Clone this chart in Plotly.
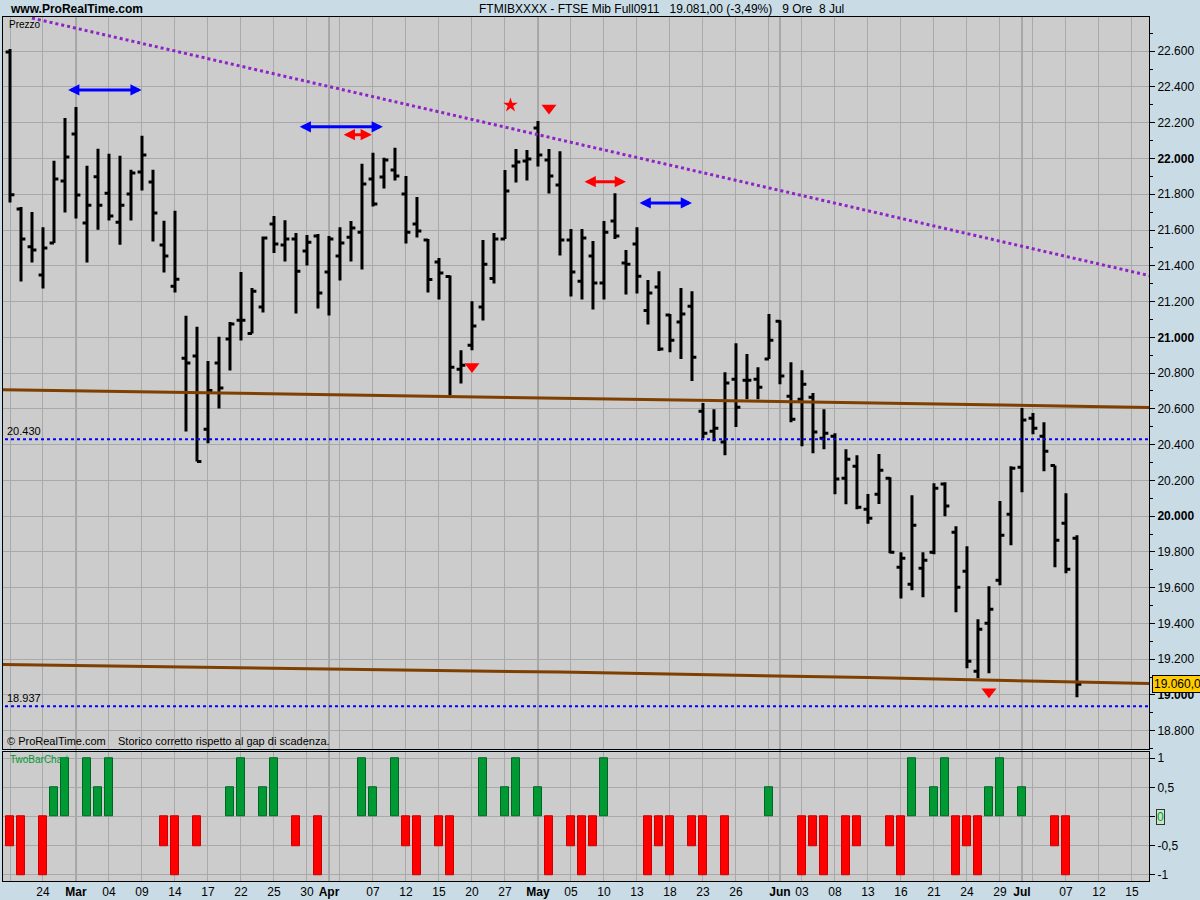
import plotly.graph_objects as go

# ---------------- DATA ----------------
bar_index = list(range(98))
opens = [22595, 21717, 21506, 21348, 21527, 21874, 22137, 21639, 21898, 21806,
         21644, 21801, 21924, 21868, 21516, 21286, 20883, 20896, 20486, 20856,
         20990, 21096, 21021, 21169, 21633, 21516, 21549, 21482, 21566, 21365,
         21454, 21560, 21588, 21885, 21896, 21935, 21801, 21633, 21544, 21421,
         21340, 20822, 20956, 21169, 21329, 21549, 21958, 21986, 22170, 21991,
         21851, 21544, 21314, 21454, 21303, 21650, 21415, 21521, 21150, 21281,
         21124, 21085, 21174, 20587, 20475, 20414, 20766, 20760, 20766, 20878,
         21090, 20671, 20654, 20665, 20436, 20447, 20212, 20279, 20039, 20123,
         20212, 19714, 19619, 19709, 19798, 20179, 19910, 19692, 19133, 19401,
         19642, 20011, 20274, 20548, 20447, 20283, 19960, 19877]
highs = [22612, 21728, 21700, 21616, 21987, 22226, 22288, 21959, 22054, 22026,
         22015, 21937, 22127, 21937, 21652, 21707, 21120, 21059, 20868, 21003,
         21085, 21365, 21275, 21564, 21678, 21655, 21583, 21572, 21577, 21566,
         21616, 21650, 21970, 22032, 22004, 22060, 21902, 21784, 21549, 21443,
         21346, 20928, 21202, 21544, 21583, 21935, 22053, 22047, 22209, 22053,
         22041, 21605, 21605, 21538, 21650, 21806, 21488, 21616, 21320, 21370,
         21130, 21275, 21258, 20632, 20598, 20805, 20967, 20906, 20833, 21130,
         21096, 20861, 20816, 20688, 20598, 20464, 20374, 20341, 20124, 20348,
         20218, 19798, 20117, 19798, 20184, 20190, 19944, 19832, 19423, 19608,
         20084, 20279, 20604, 20576, 20525, 20283, 20128, 19893]
lows = [21754, 21312, 21418, 21273, 21527, 21698, 21664, 21418, 21601, 21653,
        21517, 21653, 21821, 21536, 21362, 21251, 20473, 20305, 20408, 20602,
        20814, 20982, 21021, 21139, 21471, 21424, 21133, 21402, 21161, 21122,
        21318, 21424, 21379, 21732, 21832, 21877, 21525, 21558, 21251, 21211,
        20674, 20741, 20928, 21094, 21301, 21549, 21866, 21877, 21955, 21804,
        21457, 21228, 21211, 21155, 21211, 21549, 21239, 21245, 21071, 20923,
        20917, 20878, 20755, 20436, 20419, 20341, 20498, 20654, 20654, 20878,
        20738, 20525, 20391, 20352, 20374, 20123, 20067, 20039, 19957, 20068,
        19793, 19539, 19586, 19547, 19787, 20000, 19463, 19149, 19093, 19121,
        19614, 19837, 20134, 20458, 20251, 19714, 19681, 18987]
closes = [21797, 21549, 21488, 21499, 21885, 22008, 21795, 21739, 21739, 21678,
          21739, 21918, 22019, 21695, 21454, 21325, 20856, 20305, 20702, 20716,
          21074, 21096, 21258, 21555, 21521, 21549, 21370, 21532, 21247, 21549,
          21527, 21611, 21857, 21745, 21991, 21902, 21588, 21594, 21323, 21359,
          20833, 20844, 21063, 21409, 21549, 21818, 21980, 21997, 22019, 21902,
          21544, 21365, 21555, 21303, 21588, 21566, 21409, 21342, 21247, 20934,
          20984, 21130, 20889, 20464, 20492, 20744, 20609, 20760, 20721, 20984,
          20783, 20542, 20738, 20470, 20464, 20207, 20318, 20050, 19988, 20257,
          19798, 19765, 19949, 19754, 20156, 20056, 19602, 19189, 19368, 19479,
          19893, 20268, 20537, 20492, 20363, 19865, 19703, 19060]

two_bar = [-0.5, -1, 0, -1, 0.5, 1, 0, 1, 0.5, 1,
           0, 0, 0, 0, -0.5, -1, 0, -0.5, 0, 0,
           0.5, 1, 0, 0.5, 1, 0, -0.5, 0, -1, 0,
           0, 0, 1, 0.5, 0, 1, -0.5, -1, 0, -0.5,
           -1, 0, 0, 1, 0, 0.5, 1, 0, 0.5, -1,
           0, -0.5, -1, -0.5, 1, 0, 0, 0, -1, -0.5,
           -1, 0, -0.5, -1, 0, -1, 0, 0, 0, 0.5,
           0, 0, -1, -0.5, -1, 0, -1, -0.5, 0, 0,
           -0.5, -1, 1, 0, 0.5, 1, -1, -0.5, -1, 0.5,
           1, 0, 0.5, 0, 0, -0.5, -1, 0]

tick_idx = [3, 6, 9, 12, 15, 18, 21, 24, 27, 29, 33, 36, 39, 42, 45, 48, 51, 54,
            57, 60, 63, 66, 70, 72, 75, 78, 81, 84, 87, 90, 92, 96, 99, 102]
tick_labels = ["24", "Mar", "04", "09", "14", "17", "22", "25", "30", "Apr", "07",
               "12", "15", "20", "27", "May", "05", "10", "13", "18", "23", "26",
               "Jun", "03", "08", "13", "16", "21", "24", "29", "Jul", "07", "12", "15"]

price_ticks = list(range(18800, 22601, 200))

trend_idx = [2, 104]
trend_price = [22785, 21339]

upper_ma_idx = [-1, 20, 40, 60, 80, 104]
upper_ma = [20707, 20688, 20669, 20650, 20631, 20607]

lower_ma_idx = [-1, 25, 50, 78, 92, 104]
lower_ma = [19170, 19150, 19128, 19097, 19078, 19063]

level_prices = [20430, 18937]

blue_arrow_start = [5.15, 26.2, 57.1]
blue_arrow_end = [11.97, 33.9, 62.0]
blue_arrow_price = [22383, 22177, 21751]

red_arrow_start = [30.2, 52.1]
red_arrow_end = [32.9, 56.0]
red_arrow_price = [22133, 21870]

signal_down_idx = [49, 42, 89]
signal_down_price = [22282, 20837, 19018]
star_idx = [45.5]
star_price = [22298]

last_price = 19060

# ---------------- STYLE ----------------
PAPER = "#C9DCE6"
PLOT = "#CCCCCC"
GRID = "#A9A9A9"
MONTH = "#7A7A7A"
FONT = "Liberation Sans, Arial, sans-serif"

def fmt_price(v):
    s = f"{v:,}".replace(",", ".")
    return f"<b>{s}</b>" if v % 1000 == 0 else s

fig = go.Figure()

fig.add_trace(go.Ohlc(
    x=bar_index, open=opens, high=highs, low=lows, close=closes,
    increasing=dict(line=dict(color="black", width=3)),
    decreasing=dict(line=dict(color="black", width=3)),
    tickwidth=0.4, xaxis="x", yaxis="y", hoverinfo="skip", showlegend=False))

fig.add_trace(go.Scatter(x=trend_idx, y=trend_price, mode="lines",
                         line=dict(color="#8E24C8", width=3, dash="3px,3px"),
                         xaxis="x", yaxis="y", hoverinfo="skip", showlegend=False))
fig.add_trace(go.Scatter(x=upper_ma_idx, y=upper_ma, mode="lines",
                         line=dict(color="#7F3F00", width=3),
                         xaxis="x", yaxis="y", hoverinfo="skip", showlegend=False))
fig.add_trace(go.Scatter(x=lower_ma_idx, y=lower_ma, mode="lines",
                         line=dict(color="#7F3F00", width=3),
                         xaxis="x", yaxis="y", hoverinfo="skip", showlegend=False))
for lv in level_prices:
    fig.add_trace(go.Scatter(x=[-1, 104], y=[lv, lv], mode="lines",
                             line=dict(color="#0000FF", width=2, dash="3px,3px"),
                             xaxis="x", yaxis="y", hoverinfo="skip", showlegend=False))

fig.add_trace(go.Scatter(x=signal_down_idx, y=signal_down_price, mode="markers",
                         marker=dict(symbol="triangle-down", size=13, color="#FF0000"),
                         xaxis="x", yaxis="y", hoverinfo="skip", showlegend=False))
fig.add_trace(go.Scatter(x=star_idx, y=star_price, mode="markers",
                         marker=dict(symbol="star", size=11, color="#FF0000"),
                         xaxis="x", yaxis="y", hoverinfo="skip", showlegend=False))

bar_colors = ["#009933" if v > 0 else ("#FF0000" if v < 0 else "rgba(0,0,0,0)") for v in two_bar]
bar_lines = ["#006622" if v > 0 else ("#CC0000" if v < 0 else "rgba(0,0,0,0)") for v in two_bar]
fig.add_trace(go.Bar(x=bar_index, y=two_bar, width=0.75,
                     marker=dict(color=bar_colors, line=dict(color=bar_lines, width=1)),
                     xaxis="x2", yaxis="y2", hoverinfo="skip", showlegend=False))

annotations = []
for xs, xe, p in zip(blue_arrow_start, blue_arrow_end, blue_arrow_price):
    annotations.append(dict(x=xe, y=p, ax=xs, ay=p, xref="x", yref="y", axref="x", ayref="y",
                            text="", showarrow=True, arrowhead=2, arrowside="end+start",
                            arrowsize=0.75, arrowwidth=3, arrowcolor="#0000FF"))
for xs, xe, p in zip(red_arrow_start, red_arrow_end, red_arrow_price):
    annotations.append(dict(x=xe, y=p, ax=xs, ay=p, xref="x", yref="y", axref="x", ayref="y",
                            text="", showarrow=True, arrowhead=2, arrowside="end+start",
                            arrowsize=0.75, arrowwidth=3, arrowcolor="#FF0000"))

for lv in level_prices:
    annotations.append(dict(x=0, y=lv, xref="paper", yref="y", xanchor="left", yanchor="bottom",
                            xshift=2, yshift=0, showarrow=False,
                            text=f"{lv:,}".replace(",", "."), font=dict(family=FONT, size=11, color="black")))

annotations.append(dict(x=1, y=last_price, xref="paper", yref="y", xanchor="left", yanchor="middle",
                        xshift=3, showarrow=False, text=f"{last_price:,}".replace(",", ".") + ",0",
                        bgcolor="#FFCC00", bordercolor="black", borderwidth=1, borderpad=1,
                        font=dict(family=FONT, size=12, color="black")))
annotations.append(dict(x=1, y=0, xref="paper", yref="y2", xanchor="left", yanchor="middle",
                        xshift=7, showarrow=False, text="0",
                        bgcolor="#C8E6C8", bordercolor="#333333", borderwidth=1, borderpad=0,
                        font=dict(family=FONT, size=12, color="#009933")))

annotations.append(dict(x=0.004, y=1.0093, xref="paper", yref="paper", xanchor="left", yanchor="middle",
                        showarrow=False, text="<b>www.ProRealTime.com</b>",
                        font=dict(family=FONT, size=12, color="black")))
annotations.append(dict(x=0.4136, y=1.0093, xref="paper", yref="paper", xanchor="left", yanchor="middle",
                        showarrow=False,
                        text="FTMIBXXXX - FTSE Mib Full0911&nbsp;&nbsp;&nbsp;19.081,00 (-3,49%)&nbsp;&nbsp;&nbsp;9 Ore&nbsp;&nbsp;8 Jul",
                        font=dict(family=FONT, size=12, color="black")))
annotations.append(dict(x=0, y=1, xref="paper", yref="paper", xanchor="left", yanchor="top",
                        xshift=4, yshift=0, showarrow=False, text="Prezzo",
                        font=dict(family=FONT, size=10, color="black")))
annotations.append(dict(x=0, y=0.1528, xref="paper", yref="paper", xanchor="left", yanchor="bottom",
                        xshift=2, showarrow=False,
                        text="© ProRealTime.com&nbsp;&nbsp;&nbsp;&nbsp;Storico corretto rispetto al gap di scadenza.",
                        font=dict(family=FONT, size=11, color="black")))
annotations.append(dict(x=0, y=0.149, xref="paper", yref="paper", xanchor="left", yanchor="top",
                        xshift=5, showarrow=False, text="TwoBarChart",
                        font=dict(family=FONT, size=10, color="#009933")))

shapes = []
for ti, lab in zip(tick_idx, tick_labels):
    if lab.isalpha():
        shapes.append(dict(type="line", xref="x", yref="paper", x0=ti, x1=ti, y0=0, y1=1,
                           line=dict(color=MONTH, width=1), layer="below"))

xr = [-0.636, 103.55]
common_x = dict(range=xr, showgrid=True, gridcolor=GRID, gridwidth=1,
                minor=dict(tickmode="linear", tick0=0, dtick=3, showgrid=True, gridcolor=GRID, gridwidth=1),
                showline=True, linecolor="black", linewidth=1, mirror=True, zeroline=False,
                tickmode="array", tickvals=tick_idx, fixedrange=True, automargin=False)

fig.update_layout(
    width=1200, height=900,
    margin=dict(l=3, r=51, t=17, b=19, autoexpand=False),
    paper_bgcolor=PAPER, plot_bgcolor=PLOT,
    bargap=0, barmode="overlay",
    showlegend=False,
    xaxis=dict(**common_x, anchor="y", showticklabels=False, rangeslider=dict(visible=False)),
    xaxis2=dict(**common_x, anchor="y2", matches="x", showticklabels=True,
                ticktext=[f"<b>{t}</b>" if t.isalpha() else t for t in tick_labels],
                tickfont=dict(family=FONT, size=12, color="black"), ticks=""),
    yaxis=dict(domain=[0.1528, 1], range=[18698, 22791], side="right", anchor="x",
               tickmode="array", tickvals=price_ticks, ticktext=[fmt_price(v) for v in price_ticks],
               showgrid=True, gridcolor=GRID, zeroline=False, automargin=False,
               ticks="outside", ticklen=5, tickcolor="black",
               minor=dict(tickmode="linear", tick0=0, dtick=100, ticks="outside", ticklen=3,
                          tickcolor="black", showgrid=False),
               showline=True, linecolor="black", mirror=True,
               tickfont=dict(family=FONT, size=12, color="black"), fixedrange=True),
    yaxis2=dict(domain=[0, 0.149], range=[-1.103, 1.103], side="right", anchor="x2",
                tickmode="array", tickvals=[-1, -0.5, 0, 0.5, 1], ticktext=["-1", "-0,5", "", "0,5", "1"],
                showgrid=True, gridcolor=GRID, zeroline=False, automargin=False,
                ticks="outside", ticklen=5, tickcolor="black",
                showline=True, linecolor="black", mirror=True,
                tickfont=dict(family=FONT, size=12, color="black"), fixedrange=True),
    annotations=annotations,
    shapes=shapes,
)

fig.write_html("out.html", config={"displayModeBar": False},
               post_script="document.body.style.margin='0px';")
